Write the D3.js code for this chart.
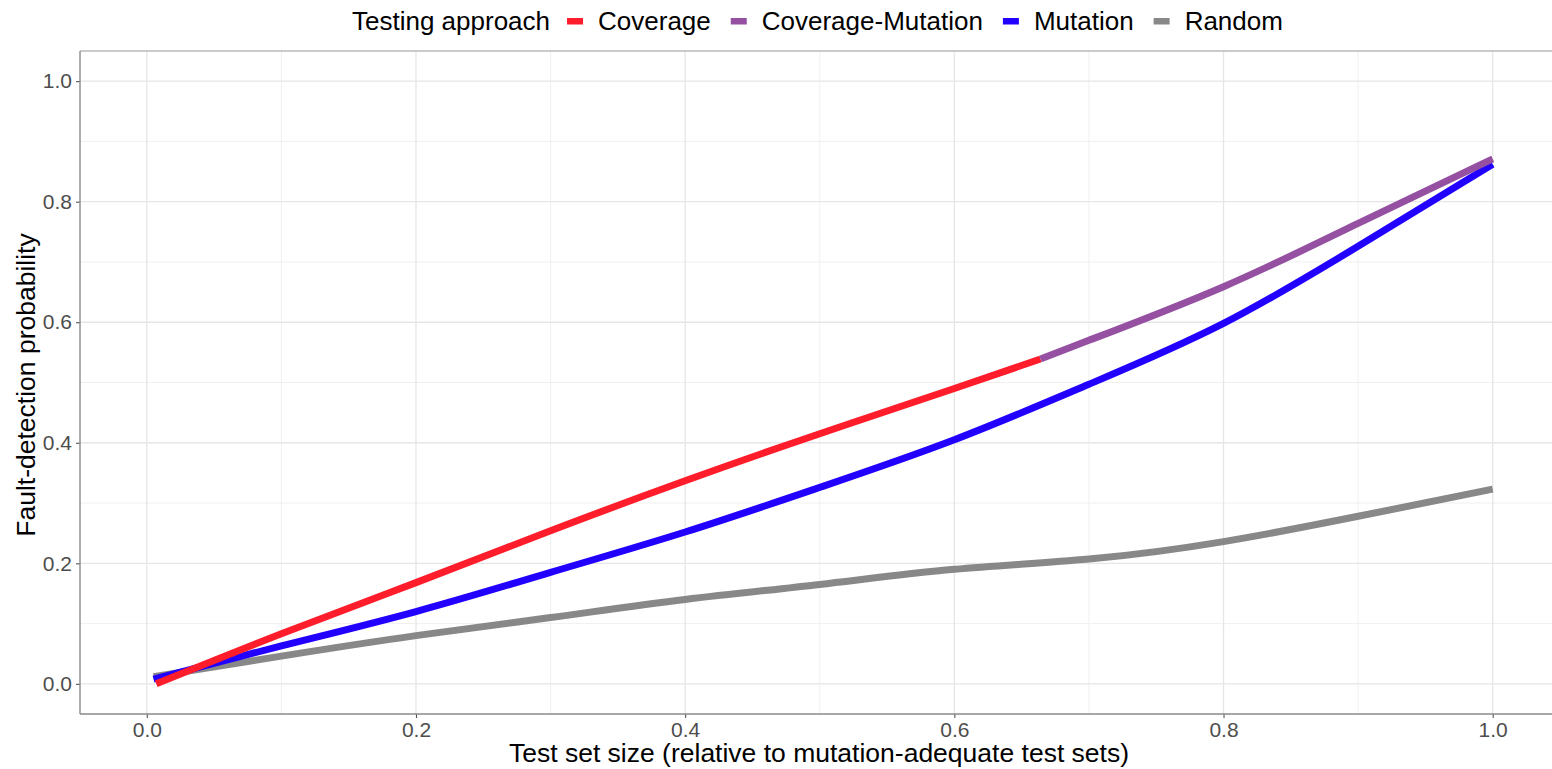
<!DOCTYPE html>
<html>
<head>
<meta charset="utf-8">
<script src="https://cdn.jsdelivr.net/npm/d3@7"></script>
<style>
  html, body { margin: 0; padding: 0; background: #ffffff; }
  svg { display: block; font-family: "Liberation Sans", Arial, Helvetica, sans-serif; }
</style>
</head>
<body>
<svg id="chart" width="1552" height="769"></svg>
<script>
// Fault-detection probability by relative test set size, per testing approach
const coverageX = [0.007, 0.1, 0.2, 0.3, 0.4, 0.5, 0.6, 0.664];
const coverageY = [0.000, 0.083, 0.168, 0.254, 0.337, 0.415, 0.490, 0.539];

const covMutX = [0.664, 0.7, 0.8, 0.9, 1.0];
const covMutY = [0.539, 0.570, 0.659, 0.764, 0.871];

const mutationX = [0.005, 0.1, 0.2, 0.3, 0.4, 0.5, 0.6, 0.7, 0.8, 0.9, 1.0];
const mutationY = [0.008, 0.063, 0.120, 0.185, 0.252, 0.326, 0.405, 0.497, 0.598, 0.726, 0.862];

const randomX = [0.005, 0.1, 0.2, 0.3, 0.4, 0.5, 0.6, 0.7, 0.8, 0.9, 1.0];
const randomY = [0.012, 0.046, 0.080, 0.110, 0.140, 0.165, 0.190, 0.207, 0.236, 0.278, 0.323];

const seriesNames = ["Coverage", "Coverage-Mutation", "Mutation", "Random"];
const seriesColors = ["#ff1d2c", "#9550a2", "#2200ff", "#888888"];

const xTicks = [0.0, 0.2, 0.4, 0.6, 0.8, 1.0];
const yTicks = [0.0, 0.2, 0.4, 0.6, 0.8, 1.0];
const xMinor = [0.1, 0.3, 0.5, 0.7, 0.9];
const yMinor = [0.1, 0.3, 0.5, 0.7, 0.9];

const legendTitle = "Testing approach";
const xTitle = "Test set size (relative to mutation-adequate test sets)";
const yTitle = "Fault-detection probability";

const svg = d3.select("#chart");

const panel = { left: 80, top: 51, right: 1560, bottom: 714 };

const x = d3.scaleLinear().domain([-0.05, 1.05]).range([panel.left - 0.5, panel.right]);
const y = d3.scaleLinear().domain([-0.05, 1.05]).range([panel.bottom, panel.top]);

// grid
const grid = svg.append("g");
grid.selectAll("line.minx").data(xMinor).join("line")
  .attr("x1", d => x(d)).attr("x2", d => x(d))
  .attr("y1", panel.top).attr("y2", panel.bottom)
  .attr("stroke", "#f0f0f0").attr("stroke-width", 1);
grid.selectAll("line.miny").data(yMinor).join("line")
  .attr("y1", d => y(d)).attr("y2", d => y(d))
  .attr("x1", panel.left).attr("x2", panel.right)
  .attr("stroke", "#f0f0f0").attr("stroke-width", 1);
grid.selectAll("line.majx").data(xTicks).join("line")
  .attr("x1", d => x(d)).attr("x2", d => x(d))
  .attr("y1", panel.top).attr("y2", panel.bottom)
  .attr("stroke", "#e6e6e6").attr("stroke-width", 1.3);
grid.selectAll("line.majy").data(yTicks).join("line")
  .attr("y1", d => y(d)).attr("y2", d => y(d))
  .attr("x1", panel.left).attr("x2", panel.right)
  .attr("stroke", "#e6e6e6").attr("stroke-width", 1.3);

// panel border, top edge
svg.append("line")
  .attr("x1", panel.left).attr("x2", panel.right)
  .attr("y1", panel.top).attr("y2", panel.top)
  .attr("stroke", "#b8b8b8").attr("stroke-width", 1.6);

// series lines
const line = d3.line()
  .x(d => x(d[0])).y(d => y(d[1]))
  .curve(d3.curveNatural);

const seriesData = [
  d3.zip(coverageX, coverageY),
  d3.zip(covMutX, covMutY),
  d3.zip(mutationX, mutationY),
  d3.zip(randomX, randomY)
];

// random and mutation underneath, coverage pieces on top
const drawOrder = [3, 2, 0, 1];
svg.append("g").selectAll("path").data(drawOrder).join("path")
  .attr("d", i => line(seriesData[i]))
  .attr("fill", "none")
  .attr("stroke", i => seriesColors[i])
  .attr("stroke-width", 7)
  .attr("stroke-linecap", "butt")
  .attr("stroke-linejoin", "round");

// axes
const xAxis = d3.axisBottom(x).tickValues(xTicks).tickFormat(d3.format(".1f")).tickSize(4).tickPadding(4);
const yAxis = d3.axisLeft(y).tickValues(yTicks).tickFormat(d3.format(".1f")).tickSize(4).tickPadding(4);

const gx = svg.append("g").attr("transform", `translate(0,${panel.bottom})`).call(xAxis);
const gy = svg.append("g").attr("transform", `translate(${panel.left},0)`).call(yAxis);

[gx, gy].forEach(g => {
  g.select(".domain").remove();
  g.selectAll(".tick line").attr("stroke", "#555555").attr("stroke-width", 1.1);
  g.selectAll(".tick text")
    .attr("fill", "#4d4d4d")
    .style("font-size", "21px")
    .style("font-family", "'Liberation Sans', Arial, sans-serif");
});

svg.append("line")
  .attr("x1", panel.left).attr("x2", panel.right)
  .attr("y1", panel.bottom).attr("y2", panel.bottom)
  .attr("stroke", "#8a8a8a").attr("stroke-width", 1.4);
svg.append("line")
  .attr("x1", panel.left).attr("x2", panel.left)
  .attr("y1", panel.top).attr("y2", panel.bottom)
  .attr("stroke", "#8a8a8a").attr("stroke-width", 1.4);

// axis titles
svg.append("text")
  .attr("x", 819)
  .attr("y", 762)
  .attr("text-anchor", "middle")
  .attr("fill", "#000")
  .style("font-size", "26.5px")
  .text(xTitle);

svg.append("text")
  .attr("transform", `translate(35,385) rotate(-90)`)
  .attr("text-anchor", "middle")
  .attr("fill", "#000")
  .style("font-size", "26.5px")
  .text(yTitle);

// legend
const legend = svg.append("g");
const legendY = 30;
const titleEl = legend.append("text")
  .attr("x", 352).attr("y", legendY)
  .attr("fill", "#000")
  .style("font-size", "26px")
  .text(legendTitle);

let cursor = 352 + titleEl.node().getComputedTextLength() + 17;
seriesNames.forEach((name, i) => {
  legend.append("rect")
    .attr("x", cursor).attr("y", legendY - 12)
    .attr("width", 16).attr("height", 6.5)
    .attr("fill", seriesColors[i]);
  const t = legend.append("text")
    .attr("x", cursor + 31).attr("y", legendY)
    .attr("fill", "#000")
    .style("font-size", "26px")
    .text(name);
  cursor += 31 + t.node().getComputedTextLength() + 20;
});
</script>
</body>
</html>
